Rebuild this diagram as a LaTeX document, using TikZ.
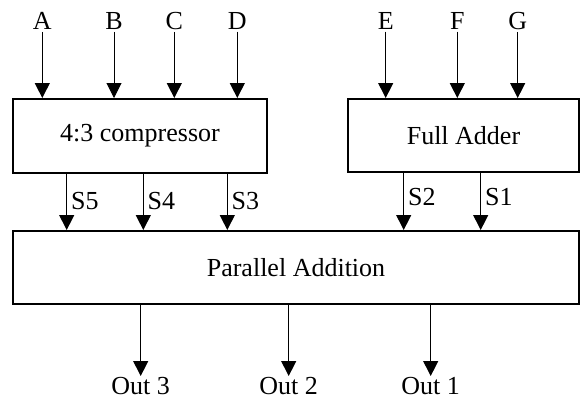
\documentclass[tikz,border=0pt]{standalone}
\usepackage{fontspec}
\setmainfont{Liberation Serif}
\usetikzlibrary{arrows.meta}
\begin{document}
\begin{tikzpicture}[x=1pt,y=-1pt,
  block/.style={draw,line width=2pt,rectangle,inner sep=0pt,
    font=\fontsize{26}{30}\selectfont},
  lbl/.style={inner sep=2pt,font=\fontsize{26}{30}\selectfont},
  slbl/.style={inner sep=0pt,anchor=west,font=\fontsize{26}{30}\selectfont},
  arr/.style={line width=1pt,-{Triangle[length=15pt,width=15pt]}}]
\useasboundingbox (0,0) rectangle (581,400);

% blocks
\node[block,minimum width=254pt,minimum height=74pt] (comp) at (140,136) {4:3 compressor};
\node[block,minimum width=231pt,minimum height=73pt] (fa) at (463.5,135.5) {Full Adder};
\node[block,minimum width=566pt,minimum height=73pt] (pa) at (296,267.5) {Parallel Addition};

% inputs of the compressor
\node[lbl] (A) at (42.3,21) {A};
\node[lbl] (B) at (114,21) {B};
\node[lbl] (C) at (174.3,21) {C};
\node[lbl] (D) at (237.3,21) {D};
\foreach \n in {A,B,C,D}
  \draw[arr] (\n.south) -- (\n |- comp.north);

% inputs of the full adder
\node[lbl] (E) at (385.7,21) {E};
\node[lbl] (F) at (457.3,21) {F};
\node[lbl] (G) at (517.7,21) {G};
\foreach \n in {E,F,G}
  \draw[arr] (\n.south) -- (\n |- fa.north);

% sum signals into the parallel adder
\coordinate (s5) at (66.7,0);
\coordinate (s4) at (143.3,0);
\coordinate (s3) at (227.3,0);
\coordinate (s2) at (403.7,0);
\coordinate (s1) at (480.7,0);
\foreach \s in {s5,s4,s3}
  \draw[arr] (\s |- comp.south) -- (\s |- pa.north);
\foreach \s in {s2,s1}
  \draw[arr] (\s |- fa.south) -- (\s |- pa.north);
\node[slbl] (S5) at (71,201) {S5};
\node[slbl] (S4) at (147.5,201) {S4};
\node[slbl] (S3) at (231.5,201) {S3};
\node[slbl] (S2) at (408,197) {S2};
\node[slbl] (S1) at (485,197) {S1};

% outputs
\node[lbl,inner sep=1pt,anchor=north] (O3) at (140.7,376) {Out 3};
\node[lbl,inner sep=1pt,anchor=north] (O2) at (288.7,376) {Out 2};
\node[lbl,inner sep=1pt,anchor=north] (O1) at (430.7,376) {Out 1};
\foreach \o in {O3,O2,O1}
  \draw[arr] (\o |- pa.south) -- (\o.north);
\end{tikzpicture}
\end{document}
